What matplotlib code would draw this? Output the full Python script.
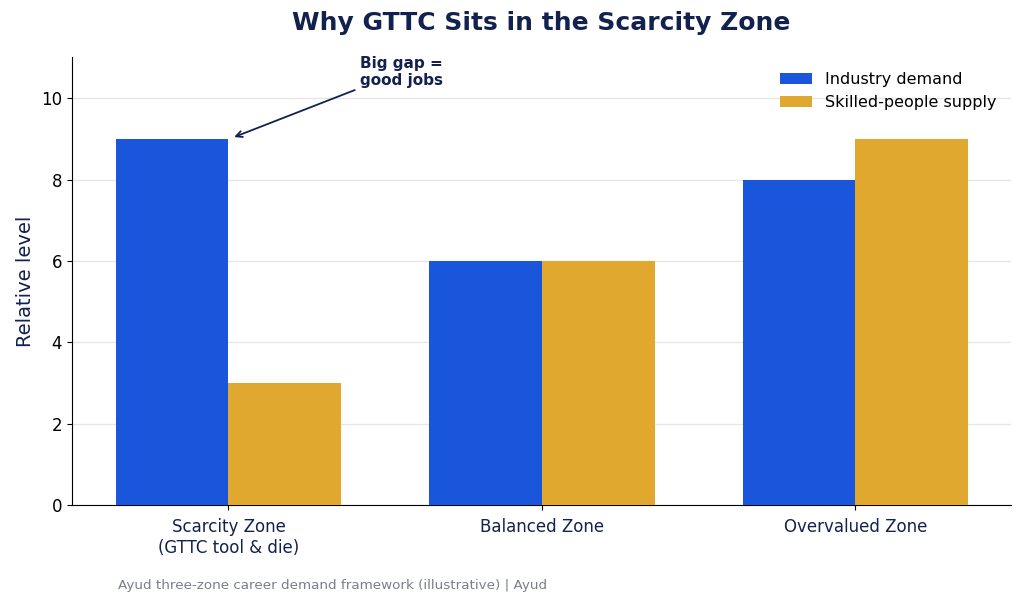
import matplotlib.pyplot as plt
import numpy as np

categories = ["Scarcity Zone\n(GTTC tool & die)", "Balanced Zone", "Overvalued Zone"]
demand = [9, 6, 8]
supply = [3, 6, 9]

navy = "#13214f"
blue = "#1a56db"
gold = "#e0a82e"

fig, ax = plt.subplots(figsize=(10.24, 6.05), dpi=100)
plt.subplots_adjust(left=0.07, right=0.987, top=0.905, bottom=0.165)

x = np.arange(len(categories))
w = 0.36
ax.bar(x - w / 2, demand, w, color=blue, label="Industry demand", zorder=3)
ax.bar(x + w / 2, supply, w, color=gold, label="Skilled-people supply", zorder=3)

ax.set_ylim(0, 11)
ax.set_xlim(-0.5, 2.495)
ax.set_xticks(x)
ax.set_xticklabels(categories, color=navy, fontsize=12)
ax.tick_params(axis="x", pad=6)
ax.tick_params(axis="y", labelsize=12)
ax.set_ylabel("Relative level", color=navy, fontsize=14)
ax.grid(axis="y", color="#e6e6e6", linewidth=1, zorder=0)
ax.spines["top"].set_visible(False)
ax.spines["right"].set_visible(False)

ax.set_title("Why GTTC Sits in the Scarcity Zone", fontsize=18, fontweight="bold",
             color=navy, pad=20)

ax.annotate("Big gap =\ngood jobs", xy=(0.01, 9.02), xytext=(0.42, 10.25),
            fontsize=11, fontweight="bold", color=navy, ha="left", va="bottom",
            arrowprops=dict(arrowstyle="->", color=navy, lw=1.3))

ax.legend(loc="upper right", frameon=False, fontsize=11.5)

fig.text(0.115, 0.027, "Ayud three-zone career demand framework (illustrative) | Ayud",
         color="#7a7f8c", fontsize=9.7)

plt.savefig("out.png", dpi=100)
